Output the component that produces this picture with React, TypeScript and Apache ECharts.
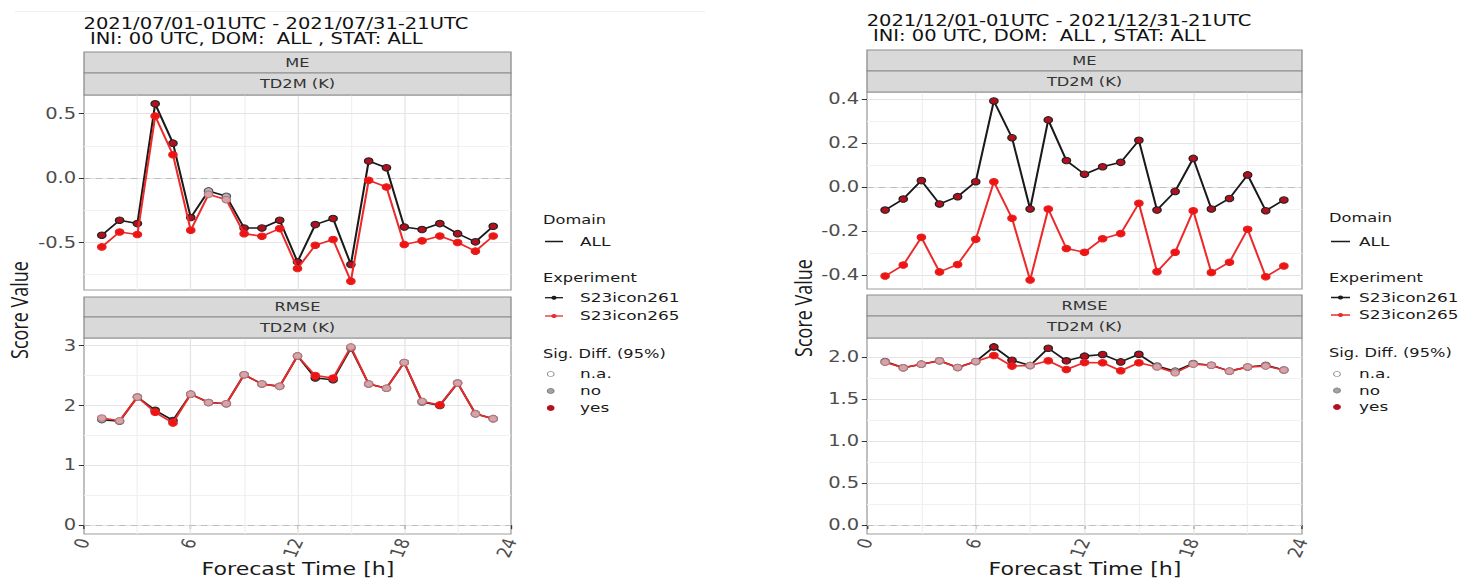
import React, { useEffect, useRef } from "react";
import * as echarts from "echarts";

// The reference picture is stretched horizontally; the chart is drawn at its
// natural width and stretched by the same factor.
const STRETCH = 1.3;
const PAGE_W = 1479;
const PAGE_H = 580;

const hours = [1, 2, 3, 4, 5, 6, 7, 8, 9, 10, 11, 12, 13, 14, 15, 16, 17, 18, 19, 20, 21, 22, 23];

// July, ME, TD2M
const julMeS261 = [-0.444, -0.328, -0.354, 0.576, 0.271, -0.307, -0.1, -0.142, -0.388, -0.388, -0.328, -0.651, -0.362, -0.315, -0.672, 0.132, 0.08, -0.38, -0.4, -0.354, -0.432, -0.496, -0.375];
const julMeS265 = [-0.535, -0.419, -0.439, 0.481, 0.181, -0.406, -0.127, -0.168, -0.432, -0.452, -0.393, -0.703, -0.522, -0.478, -0.801, -0.018, -0.07, -0.517, -0.488, -0.45, -0.501, -0.568, -0.45];
const julMeSig = ["yes", "yes", "yes", "yes", "yes", "yes", "no", "no", "yes", "yes", "yes", "yes", "yes", "yes", "yes", "yes", "yes", "yes", "yes", "yes", "yes", "yes", "yes"];

// July, RMSE, TD2M
const julRmseS261 = [1.764, 1.736, 2.142, 1.92, 1.75, 2.19, 2.05, 2.03, 2.515, 2.36, 2.32, 2.83, 2.46, 2.43, 2.96, 2.36, 2.29, 2.72, 2.06, 2.0, 2.376, 1.864, 1.78];
const julRmseS265 = [1.79, 1.745, 2.142, 1.886, 1.708, 2.19, 2.05, 2.03, 2.515, 2.36, 2.32, 2.83, 2.5, 2.46, 2.98, 2.36, 2.29, 2.72, 2.07, 2.01, 2.376, 1.86, 1.78];
const julRmseSig = ["no", "no", "no", "yes", "yes", "no", "no", "no", "no", "no", "no", "no", "yes", "yes", "no", "no", "no", "no", "no", "yes", "no", "no", "no"];

// December, ME, TD2M
const decMeS261 = [-0.105, -0.055, 0.029, -0.077, -0.044, 0.024, 0.391, 0.224, -0.1, 0.305, 0.12, 0.058, 0.092, 0.112, 0.212, -0.105, -0.02, 0.13, -0.1, -0.052, 0.055, -0.108, -0.059];
const decMeS265 = [-0.405, -0.355, -0.229, -0.386, -0.352, -0.238, 0.024, -0.142, -0.423, -0.1, -0.28, -0.297, -0.235, -0.212, -0.074, -0.385, -0.297, -0.108, -0.389, -0.342, -0.192, -0.408, -0.359];
const decMeSig = ["yes", "yes", "yes", "yes", "yes", "yes", "yes", "yes", "yes", "yes", "yes", "yes", "yes", "yes", "yes", "yes", "yes", "yes", "yes", "yes", "yes", "yes", "yes"];

// December, RMSE, TD2M
const decRmseS261 = [1.945, 1.87, 1.913, 1.953, 1.874, 1.945, 2.118, 1.96, 1.898, 2.102, 1.953, 2.008, 2.028, 1.94, 2.03, 1.89, 1.83, 1.92, 1.9, 1.83, 1.88, 1.9, 1.843];
const decRmseS265 = [1.937, 1.87, 1.913, 1.953, 1.874, 1.945, 2.016, 1.89, 1.898, 1.953, 1.85, 1.933, 1.93, 1.835, 1.93, 1.88, 1.81, 1.913, 1.9, 1.83, 1.88, 1.89, 1.843];
const decRmseSig = ["no", "no", "no", "no", "no", "no", "yes", "yes", "no", "yes", "yes", "yes", "yes", "yes", "yes", "no", "no", "no", "no", "no", "no", "no", "no"];

// Axis breaks
const xGridMajor = [6, 12, 18];
const xGridMinor = [3, 9, 15, 21];
const julMeTicks = [-0.5, 0, 0.5];
const julMeMinor = [-0.75, -0.25, 0.25];
const julRmseTicks = [0, 1, 2, 3];
const julRmseMinor = [0.5, 1.5, 2.5];
const decMeTicks = [-0.4, -0.2, 0, 0.2, 0.4];
const decMeMinor = [-0.3, -0.1, 0.1, 0.3];
const decRmseTicks = [0, 0.5, 1, 1.5, 2];
const decRmseMinor = [0.25, 0.75, 1.25, 1.75];

const titlesLeft = ["2021/07/01-01UTC - 2021/07/31-21UTC", "INI: 00 UTC, DOM:  ALL , STAT: ALL"];
const titlesRight = ["2021/12/01-01UTC - 2021/12/31-21UTC", "INI: 00 UTC, DOM:  ALL , STAT: ALL"];
const experiments = ["S23icon261", "S23icon265"];
const sigLabels = ["n.a.", "no", "yes"];

const FONT = "DejaVu Sans";
const BLACK = "#1a1a1a";
const RED = "#ec2a2a";

const sx = (v: number) => v / STRETCH;

function expand(a: number[], b: number[]) {
  const lo = Math.min(0, ...a, ...b);
  const hi = Math.max(0, ...a, ...b);
  const d = (hi - lo) * 0.05;
  return [lo - d, hi + d];
}

const panels = [
  { s261: julMeS261, s265: julMeS265, sig: julMeSig, ticks: julMeTicks, minor: julMeMinor, dec: 1, left: 84, width: 427, top: 95, height: 195, bottom: false, strips: [["ME", 52, 73], ["TD2M (K)", 73, 95]] },
  { s261: julRmseS261, s265: julRmseS265, sig: julRmseSig, ticks: julRmseTicks, minor: julRmseMinor, dec: 0, left: 84, width: 427, top: 338, height: 196, bottom: true, strips: [["RMSE", 297, 317], ["TD2M (K)", 317, 338]] },
  { s261: decMeS261, s265: decMeS265, sig: decMeSig, ticks: decMeTicks, minor: decMeMinor, dec: 1, left: 867, width: 435, top: 92, height: 197, bottom: false, strips: [["ME", 50, 71], ["TD2M (K)", 71, 92]] },
  { s261: decRmseS261, s265: decRmseS265, sig: decRmseSig, ticks: decRmseTicks, minor: decRmseMinor, dec: 1, left: 867, width: 435, top: 338, height: 196, bottom: true, strips: [["RMSE", 295, 316], ["TD2M (K)", 316, 338]] },
];

function text(x: number, y: number, t: string, size: number, opts: any = {}) {
  return {
    type: "text",
    x,
    y,
    z: 20,
    silent: true,
    rotation: opts.rotation || 0,
    style: {
      text: t,
      fontSize: size,
      fontFamily: opts.font || FONT,
      fill: opts.fill || "#1a1a1a",
      align: opts.align || "left",
      verticalAlign: "middle",
    },
  };
}

function legend(titleX: number, lx0: number, lx1: number, markX: number, labelX: number, ys: number[]) {
  const els: any[] = [];
  els.push(text(sx(titleX), ys[0], "Domain", 12.5));
  els.push({ type: "line", z: 20, silent: true, shape: { x1: sx(lx0), y1: ys[1], x2: sx(lx1), y2: ys[1] }, style: { stroke: BLACK, lineWidth: 1.5 } });
  els.push(text(sx(labelX), ys[1], "ALL", 13));
  els.push(text(sx(titleX), ys[2], "Experiment", 12.5));
  const cols = [BLACK, RED];
  experiments.forEach((e, i) => {
    const y = ys[3 + i];
    els.push({ type: "line", z: 20, silent: true, shape: { x1: sx(lx0), y1: y, x2: sx(lx1), y2: y }, style: { stroke: cols[i], lineWidth: 1.3 } });
    els.push({ type: "circle", z: 21, silent: true, shape: { cx: sx((lx0 + lx1) / 2), cy: y, r: 2 }, style: { fill: cols[i] } });
    els.push(text(sx(labelX), y, e, 13));
  });
  els.push(text(sx(titleX), ys[5], "Sig. Diff. (95%)", 12.5));
  const fills = ["#ffffff", "#a3a3a3", "#b50f1f"];
  const strokes = ["#8a8a8a", "#7a7a7a", "#b50f1f"];
  sigLabels.forEach((l, i) => {
    const y = ys[6 + i];
    els.push({ type: "circle", z: 21, silent: true, shape: { cx: sx(markX), cy: y, r: 2.6 }, style: { fill: fills[i], stroke: strokes[i], lineWidth: 0.8 } });
    els.push(text(sx(labelX), y, l, 13));
  });
  return els;
}

function buildOption() {
  const grid: any[] = [];
  const xAxis: any[] = [];
  const yAxis: any[] = [];
  const series: any[] = [];
  const graphics: any[] = [];

  panels.forEach((p, i) => {
    const [mn, mx] = expand(p.s261, p.s265);
    grid.push({
      left: sx(p.left),
      top: p.top,
      width: sx(p.width),
      height: p.height,
      show: true,
      borderColor: "#9e9e9e",
      borderWidth: 1,
      backgroundColor: "#ffffff",
      containLabel: false,
      outerBoundsMode: "none",
    });
    xAxis.push({
      gridIndex: i,
      type: "value",
      min: 0,
      max: 24,
      interval: 6,
      axisLine: { show: false },
      splitLine: { show: false },
      axisTick: { show: p.bottom, length: 4, lineStyle: { color: "#333333" } },
      axisLabel: { show: p.bottom, rotate: 70, fontSize: 15, fontFamily: FONT, color: "#4d4d4d", margin: 5 },
    });
    yAxis.push({
      gridIndex: i,
      type: "value",
      min: mn,
      max: mx,
      axisLine: { show: false },
      splitLine: { show: false },
      axisTick: { show: true, length: 4, customValues: p.ticks, lineStyle: { color: "#333333" } },
      axisLabel: {
        customValues: p.ticks,
        formatter: (v: number) => v.toFixed(p.dec),
        fontSize: 15,
        fontFamily: FONT,
        color: "#4d4d4d",
        margin: 6,
      },
    });

    const gl: any[] = [];
    const minorStyle = { color: "#f1f1f1", width: 1, opacity: 1 };
    const majorStyle = { color: "#e4e4e4", width: 1, opacity: 1 };
    p.minor.forEach((v) => gl.push({ coords: [[0, v], [24, v]], lineStyle: minorStyle }));
    xGridMinor.forEach((v) => gl.push({ coords: [[v, mn], [v, mx]], lineStyle: minorStyle }));
    p.ticks.forEach((v) => gl.push({ coords: [[0, v], [24, v]], lineStyle: majorStyle }));
    xGridMajor.forEach((v) => gl.push({ coords: [[v, mn], [v, mx]], lineStyle: majorStyle }));
    gl.push({ coords: [[0, 0], [24, 0]], lineStyle: { color: "#bdbdbd", width: 1, type: [5, 4], opacity: 1 } });
    series.push({
      type: "lines",
      coordinateSystem: "cartesian2d",
      xAxisIndex: i,
      yAxisIndex: i,
      z: 1,
      silent: true,
      symbol: ["none", "none"],
      lineStyle: { opacity: 1, width: 1 },
      data: gl,
    });

    series.push({
      type: "line",
      name: experiments[0],
      xAxisIndex: i,
      yAxisIndex: i,
      z: 3,
      symbol: "circle",
      symbolSize: 6.5,
      showAllSymbol: true,
      silent: true,
      lineStyle: { color: BLACK, width: 1.6 },
      itemStyle: { color: BLACK },
      data: hours.map((h, k) => ({
        value: [h, p.s261[k]],
        itemStyle: p.sig[k] === "yes"
          ? { color: "#b50f1f", borderColor: "#222222", borderWidth: 1 }
          : { color: "#b4b4b4", borderColor: "#555555", borderWidth: 1 },
      })),
    });
    series.push({
      type: "line",
      name: experiments[1],
      xAxisIndex: i,
      yAxisIndex: i,
      z: 4,
      symbol: "circle",
      symbolSize: 6.5,
      showAllSymbol: true,
      silent: true,
      lineStyle: { color: RED, width: 1.6 },
      itemStyle: { color: RED },
      data: hours.map((h, k) => ({
        value: [h, p.s265[k]],
        itemStyle: p.sig[k] === "yes"
          ? { color: "#ee1414", borderColor: "#e82020", borderWidth: 1 }
          : { color: "#d8a3a8", borderColor: "#b07a80", borderWidth: 1 },
      })),
    });

    p.strips.forEach((s: any) => {
      const [label, y0, y1] = s;
      graphics.push({
        type: "rect",
        z: 10,
        silent: true,
        shape: { x: sx(p.left), y: y0, width: sx(p.width), height: y1 - y0 },
        style: { fill: "#d9d9d9", stroke: "#8c8c8c", lineWidth: 1 },
      });
      graphics.push(text(sx(p.left + p.width / 2), (y0 + y1) / 2, label, 12.5, { align: "center", fill: "#333333" }));
    });
  });

  // faint line at the very top of the picture
  graphics.push({ type: "line", z: 5, silent: true, shape: { x1: sx(15), y1: 11.5, x2: sx(705), y2: 11.5 }, style: { stroke: "#efefef", lineWidth: 1 } });

  // titles
  graphics.push(text(sx(83.5), 23.8, titlesLeft[0], 15, { fill: "#111111" }));
  graphics.push(text(sx(90), 38.8, titlesLeft[1], 15, { fill: "#111111" }));
  graphics.push(text(sx(866.7), 20.5, titlesRight[0], 15, { fill: "#111111" }));
  graphics.push(text(sx(873), 36.2, titlesRight[1], 15, { fill: "#111111" }));

  // axis titles
  graphics.push(text(sx(298), 569.5, "Forecast Time [h]", 17, { align: "center" }));
  graphics.push(text(sx(1085), 569.5, "Forecast Time [h]", 17, { align: "center" }));
  graphics.push(text(sx(19), 310, "Score Value", 18, { align: "center", rotation: Math.PI / 2, font: "Open Sans" }));
  graphics.push(text(sx(803), 308, "Score Value", 18, { align: "center", rotation: Math.PI / 2, font: "Open Sans" }));

  // legends
  graphics.push(...legend(543, 545, 563, 550.7, 580, [220, 241.5, 278, 297.7, 316, 354, 374, 391, 408]));
  graphics.push(...legend(1329, 1331, 1350, 1337, 1359, [218, 241.5, 278, 297.5, 315, 353, 374, 390.5, 407]));

  return {
    animation: false,
    backgroundColor: "#ffffff",
    grid,
    xAxis,
    yAxis,
    series,
    graphic: { elements: graphics },
  };
}

export default function App() {
  const ref = useRef<HTMLDivElement>(null);
  useEffect(() => {
    document.body.style.margin = "0";
    document.body.style.overflow = "hidden";
    const chart = echarts.init(ref.current as HTMLDivElement, null, { renderer: "svg" });
    chart.setOption(buildOption() as any);
    return () => chart.dispose();
  }, []);
  return (
    <div
      ref={ref}
      style={{
        position: "absolute",
        left: 0,
        top: 0,
        width: PAGE_W / STRETCH,
        height: PAGE_H,
        transform: `scaleX(${STRETCH})`,
        transformOrigin: "0 0",
      }}
    />
  );
}
